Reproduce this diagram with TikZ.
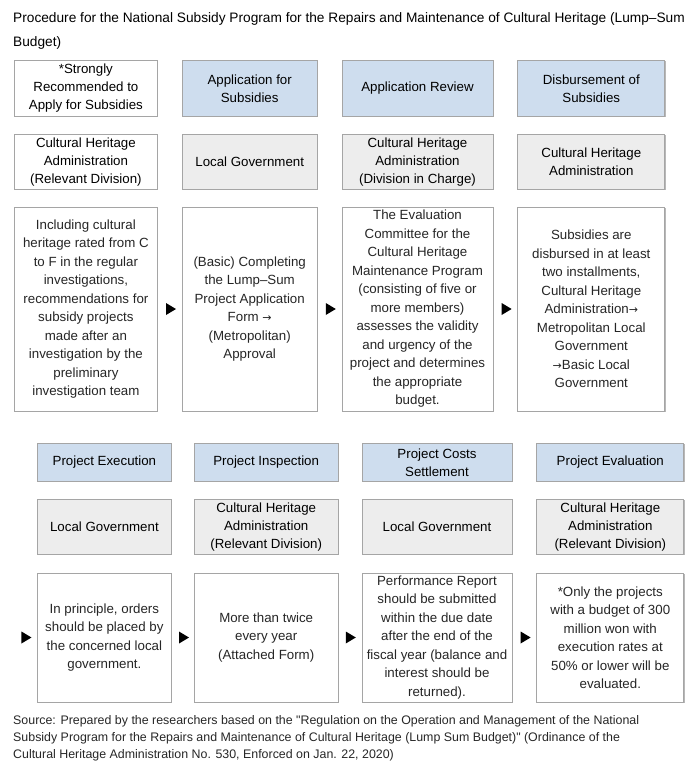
\documentclass[tikz,border=0pt]{standalone}
\usepackage{fontspec}
\setmainfont{Liberation Sans}
\newfontfamily\arrowfont{DejaVu Sans}
\usetikzlibrary{positioning,shapes.geometric,shadows}

\definecolor{headblue}{RGB}{206,221,238}
\definecolor{orggray}{RGB}{237,237,237}
\definecolor{rulegray}{RGB}{165,165,165}
\newcommand{\toarr}{{\arrowfont\fontsize{11}{11}\selectfont →}}

\begin{document}
\begin{tikzpicture}[x=1pt, y=1pt,
  box/.style={draw=rulegray, line width=.8pt, align=center,
              inner xsep=3pt, inner ysep=1pt,
              font=\fontsize{13.3}{18}\selectfont,
              drop shadow={shadow xshift=.9pt, shadow yshift=-.9pt,
                           fill=black!35, opacity=.8}},
  head/.style={box, fill=headblue},
  org/.style={box, fill=orggray},
  plain/.style={box, fill=white},
  desc/.style={box, fill=white, text=black!85,
               font=\fontsize{13.3}{18.5}\selectfont},
  tri/.style={isosceles triangle, isosceles triangle stretches,
              fill=black, inner sep=0pt, minimum width=12pt,
              minimum height=10pt},
  note/.style={anchor=north west, align=left, inner sep=0pt}
]
\useasboundingbox (0,0) rectangle (699,-782);

\node[note, font=\fontsize{13.7}{24}\selectfont] (title) at (13,-12)
  {Procedure for the National Subsidy Program for the Repairs and Maintenance of Cultural Heritage (Lump--Sum\\
   Budget)};

% upper half
\node[plain, minimum width=143pt, minimum height=56pt, anchor=north west]
  (recommend) at (14,-60) {*Strongly\\Recommended to\\Apply for Subsidies};
\node[head, minimum width=135pt, minimum height=56pt, right=24pt of recommend]
  (apply) {Application for\\Subsidies};
\node[head, minimum width=151pt, minimum height=56pt, right=24pt of apply]
  (review) {Application Review};
\node[head, minimum width=147pt, minimum height=56pt, right=24pt of review]
  (disburse) {Disbursement of\\Subsidies};

\node[plain, minimum width=143pt, minimum height=55pt, below=17pt of recommend]
  (recommendorg) {Cultural Heritage\\Administration\\(Relevant Division)};
\node[org, minimum width=135pt, minimum height=55pt, below=17pt of apply]
  (applyorg) {Local Government};
\node[org, minimum width=151pt, minimum height=55pt, below=17pt of review]
  (revieworg) {Cultural Heritage\\Administration\\(Division in Charge)};
\node[org, minimum width=147pt, minimum height=55pt, below=17pt of disburse]
  (disburseorg) {Cultural Heritage\\Administration};

\node[desc, minimum width=143pt, minimum height=204pt, below=17pt of recommendorg]
  (recommenddesc) {Including cultural\\heritage rated from C\\to F in the regular\\
   investigations,\\recommendations for\\subsidy projects\\made after an\\
   investigation by the\\preliminary\\investigation team};
\node[desc, minimum width=135pt, minimum height=204pt, below=17pt of applyorg]
  (applydesc) {(Basic) Completing\\the Lump--Sum\\Project Application\\
   Form \toarr\\(Metropolitan)\\Approval};
\node[desc, minimum width=151pt, minimum height=204pt, below=17pt of revieworg]
  (reviewdesc) {The Evaluation\\Committee for the\\Cultural Heritage\\
   Maintenance Program\\(consisting of five or\\more members)\\
   assesses the validity\\and urgency of the\\project and determines\\
   the appropriate\\budget.};
\node[desc, minimum width=147pt, minimum height=204pt, below=17pt of disburseorg]
  (disbursedesc) {Subsidies are\\disbursed in at least\\two installments,\\
   Cultural Heritage\\Administration\toarr\\Metropolitan Local\\Government\\
   \toarr Basic Local\\Government};

\node[tri, right=8pt of recommenddesc] (step1) {};
\node[tri, right=8pt of applydesc] (step2) {};
\node[tri, right=8pt of reviewdesc] (step3) {};

% lower half
\node[head, minimum width=134pt, minimum height=38pt, anchor=north west]
  (execute) at (37,-443) {Project Execution};
\node[head, minimum width=144pt, minimum height=38pt, right=22pt of execute]
  (inspect) {Project Inspection};
\node[head, minimum width=150pt, minimum height=38pt, right=23pt of inspect]
  (settle) {Project Costs\\Settlement};
\node[head, minimum width=147pt, minimum height=38pt, right=24pt of settle]
  (evaluate) {Project Evaluation};

\node[org, minimum width=134pt, minimum height=55pt, below=17pt of execute]
  (executeorg) {Local Government};
\node[org, minimum width=144pt, minimum height=55pt, below=17pt of inspect]
  (inspectorg) {Cultural Heritage\\Administration\\(Relevant Division)};
\node[org, minimum width=150pt, minimum height=55pt, below=17pt of settle]
  (settleorg) {Local Government};
\node[org, minimum width=147pt, minimum height=55pt, below=17pt of evaluate]
  (evaluateorg) {Cultural Heritage\\Administration\\(Relevant Division)};

\node[desc, minimum width=134pt, minimum height=129pt, below=18pt of executeorg]
  (executedesc) {In principle, orders\\should be placed by\\the concerned local\\
   government.};
\node[desc, minimum width=144pt, minimum height=129pt, below=18pt of inspectorg]
  (inspectdesc) {More than twice\\every year\\(Attached Form)};
\node[desc, minimum width=150pt, minimum height=129pt, below=18pt of settleorg]
  (settledesc) {Performance Report\\should be submitted\\within the due date\\
   after the end of the\\fiscal year (balance and\\interest should be\\returned).};
\node[desc, minimum width=147pt, minimum height=129pt, below=18pt of evaluateorg]
  (evaluatedesc) {*Only the projects\\with a budget of 300\\million won with\\
   execution rates at\\50\% or lower will be\\evaluated.};

\node[tri, left=5pt of executedesc] (step4) {};
\node[tri, right=7pt of executedesc] (step5) {};
\node[tri, right=7pt of inspectdesc] (step6) {};
\node[tri, right=8pt of settledesc] (step7) {};

\node[note, text=black!85, font=\fontsize{12.4}{17}\selectfont] (source) at (13,-715)
  {Source: Prepared by the researchers based on the \textquotedbl Regulation on the Operation and Management of the National\\
   Subsidy Program for the Repairs and Maintenance of Cultural Heritage (Lump Sum Budget)\textquotedbl{} (Ordinance of the\\
   Cultural Heritage Administration No. 530, Enforced on Jan. 22, 2020)};
\end{tikzpicture}
\end{document}
